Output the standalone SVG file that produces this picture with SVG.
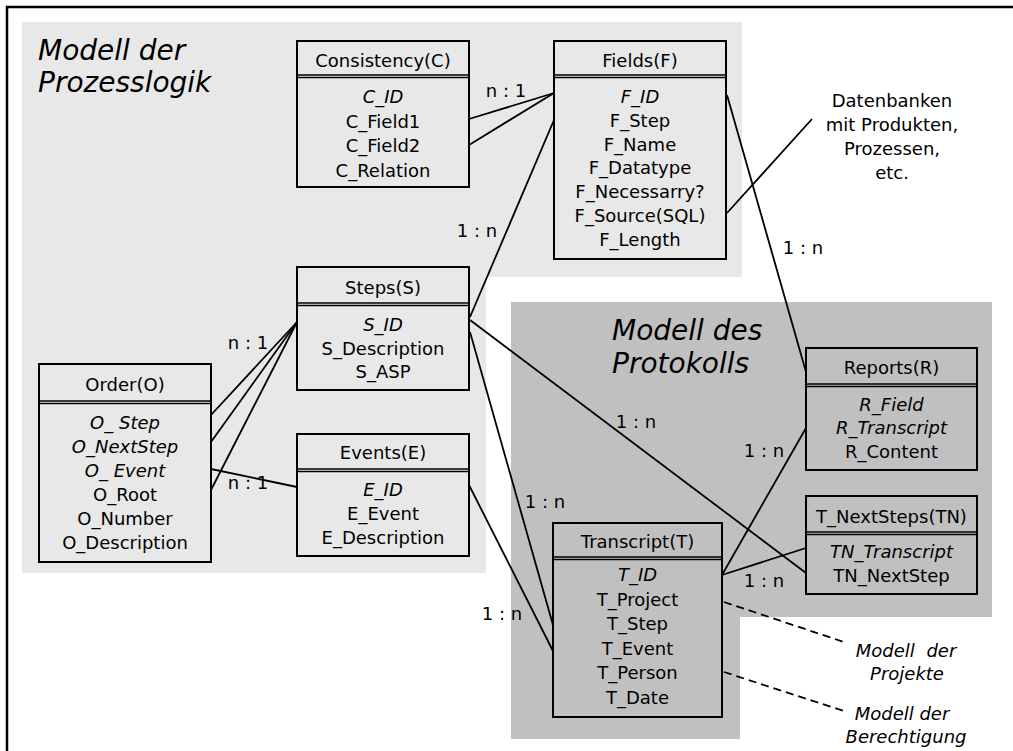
<svg xmlns="http://www.w3.org/2000/svg" width="1013" height="751" viewBox="0 0 1013 751">
  <style>
    text { font-family: "DejaVu Sans", "Liberation Sans", sans-serif; font-size: 18px; fill: #000; }
    .c { text-anchor: middle; }
    .i { font-style: italic; }
    .title { font-size: 28px; font-style: italic; }
    .box { fill: none; stroke: #000; stroke-width: 2; }
    .sep { stroke: #000; stroke-width: 1.3; fill: none; }
    .conn line { stroke: #000; stroke-width: 1.8; }
    .dash { stroke: #000; stroke-width: 1.8; stroke-dasharray: 8 5; }
  </style>

  <!-- frame -->
  <rect x="7" y="7" width="1030" height="780" fill="#fff" stroke="#000" stroke-width="2.5"/>

  <!-- model areas -->
  <path d="M22 22 H742 V277 H486 V573 H22 Z" fill="#e8e8e8"/>
  <path d="M511 302 H992 V617 H740 V739 H511 Z" fill="#c0c0c0"/>

  <text class="title" x="38" y="60">Modell der</text>
  <text class="title" x="38" y="92">Prozesslogik</text>
  <text class="title" x="612" y="340">Modell des</text>
  <text class="title" x="612" y="373">Protokolls</text>

  <!-- connectors -->
  <g id="connectors" class="conn">
    <line x1="469" y1="119" x2="554" y2="93"/>
    <line x1="469" y1="145" x2="554" y2="93"/>
    <line x1="470" y1="317" x2="554" y2="120"/>
    <line x1="727" y1="95" x2="806" y2="372"/>
    <line x1="727" y1="213" x2="812" y2="119"/>
    <line x1="211" y1="415" x2="297" y2="322"/>
    <line x1="211" y1="442" x2="297" y2="322"/>
    <line x1="211" y1="490" x2="297" y2="322"/>
    <line x1="211" y1="469" x2="297" y2="487"/>
    <line x1="470" y1="332" x2="553" y2="625"/>
    <line x1="469" y1="485" x2="553" y2="651"/>
    <line x1="470" y1="320" x2="806" y2="573"/>
    <line x1="722" y1="575" x2="806" y2="428"/>
    <line x1="722" y1="575" x2="806" y2="548"/>
    <line class="dash" x1="724" y1="602" x2="847" y2="643"/>
    <line class="dash" x1="724" y1="672" x2="847" y2="712"/>
  </g>

  <!-- cardinalities and notes -->
  <g id="labels">
    <text class="c" x="506" y="97">n : 1</text>
    <text class="c" x="477" y="237">1 : n</text>
    <text class="c" x="803" y="254">1 : n</text>
    <text class="c" x="248" y="349">n : 1</text>
    <text class="c" x="248" y="489">n : 1</text>
    <text class="c" x="636" y="428">1 : n</text>
    <text class="c" x="764" y="457">1 : n</text>
    <text class="c" x="545" y="508">1 : n</text>
    <text class="c" x="502" y="620">1 : n</text>
    <text class="c" x="764" y="587">1 : n</text>
    <text class="c" x="892" y="107">Datenbanken</text>
    <text class="c" x="892" y="131">mit Produkten,</text>
    <text class="c" x="892" y="155">Prozessen,</text>
    <text class="c" x="892" y="179">etc.</text>
    <text class="c i" x="906" y="657" style="word-spacing:6px">Modell der</text>
    <text class="c i" x="907" y="680">Projekte</text>
    <text class="c i" x="902" y="720">Modell der</text>
    <text class="c i" x="906" y="743">Berechtigung</text>
  </g>

  <g id="consistency">
    <rect class="box" x="297" y="41" width="172" height="146"/>
    <path class="sep" d="M297 75 H469 M297 77.5 H469"/>
    <text class="c" x="383" y="67">Consistency(C)</text>
    <text class="c i" x="383" y="103">C_ID</text>
    <text class="c" x="383" y="127.5">C_Field1</text>
    <text class="c" x="383" y="152">C_Field2</text>
    <text class="c" x="383" y="176.5">C_Relation</text>
  </g>

  <g id="fields">
    <rect class="box" x="554" y="41" width="172" height="218"/>
    <path class="sep" d="M554 75 H726 M554 77.5 H726"/>
    <text class="c" x="640" y="67">Fields(F)</text>
    <text class="c i" x="640" y="103">F_ID</text>
    <text class="c" x="640" y="126.8">F_Step</text>
    <text class="c" x="640" y="150.6">F_Name</text>
    <text class="c" x="640" y="174.4">F_Datatype</text>
    <text class="c" x="640" y="198.2">F_Necessarry?</text>
    <text class="c" x="640" y="222">F_Source(SQL)</text>
    <text class="c" x="640" y="245.8">F_Length</text>
  </g>

  <g id="steps">
    <rect class="box" x="297" y="267" width="172" height="123"/>
    <path class="sep" d="M297 303 H469 M297 305.5 H469"/>
    <text class="c" x="383" y="294">Steps(S)</text>
    <text class="c i" x="383" y="331">S_ID</text>
    <text class="c" x="383" y="354.5">S_Description</text>
    <text class="c" x="383" y="378">S_ASP</text>
  </g>

  <g id="events">
    <rect class="box" x="297" y="434" width="172" height="122"/>
    <path class="sep" d="M297 469 H469 M297 471.5 H469"/>
    <text class="c" x="383" y="459">Events(E)</text>
    <text class="c i" x="383" y="496">E_ID</text>
    <text class="c" x="383" y="520">E_Event</text>
    <text class="c" x="383" y="544">E_Description</text>
  </g>

  <g id="order">
    <rect class="box" x="39" y="364" width="172" height="198"/>
    <path class="sep" d="M39 401 H211 M39 403.5 H211"/>
    <text class="c" x="125" y="391">Order(O)</text>
    <text class="c i" x="125" y="429">O_ Step</text>
    <text class="c i" x="125" y="453">O_NextStep</text>
    <text class="c i" x="125" y="477">O_ Event</text>
    <text class="c" x="125" y="501">O_Root</text>
    <text class="c" x="125" y="525">O_Number</text>
    <text class="c" x="125" y="549">O_Description</text>
  </g>

  <g id="reports">
    <rect class="box" x="806" y="348" width="171" height="122"/>
    <path class="sep" d="M806 384 H977 M806 386.5 H977"/>
    <text class="c" x="891.5" y="374">Reports(R)</text>
    <text class="c i" x="891.5" y="411">R_Field</text>
    <text class="c i" x="891.5" y="434">R_Transcript</text>
    <text class="c" x="891.5" y="458">R_Content</text>
  </g>

  <g id="nextsteps">
    <rect class="box" x="806" y="496" width="171" height="98"/>
    <path class="sep" d="M806 532 H977 M806 534.5 H977"/>
    <text class="c" x="891.5" y="523">T_NextSteps(TN)</text>
    <text class="c i" x="891.5" y="558">TN_Transcript</text>
    <text class="c" x="891.5" y="582">TN_NextStep</text>
  </g>

  <g id="transcript">
    <rect class="box" x="553" y="523" width="169" height="194"/>
    <path class="sep" d="M553 557 H722 M553 559.5 H722"/>
    <text class="c" x="637.5" y="548">Transcript(T)</text>
    <text class="c i" x="637.5" y="581">T_ID</text>
    <text class="c" x="637.5" y="605.6">T_Project</text>
    <text class="c" x="637.5" y="630.2">T_Step</text>
    <text class="c" x="637.5" y="654.8">T_Event</text>
    <text class="c" x="637.5" y="679.4">T_Person</text>
    <text class="c" x="637.5" y="704">T_Date</text>
  </g>
</svg>
